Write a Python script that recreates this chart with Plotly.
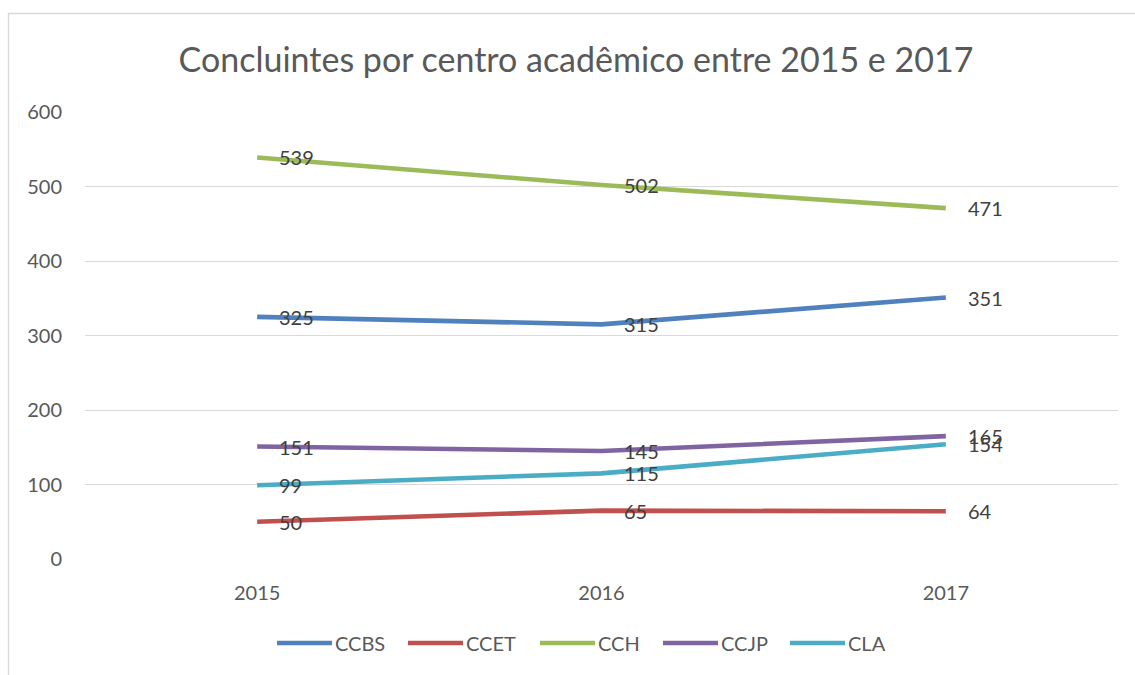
import plotly.graph_objects as go

years = ["2015", "2016", "2017"]
series_names = ["CCBS", "CCET", "CCH", "CCJP", "CLA"]
ccbs = [325, 315, 351]
ccet = [50, 65, 64]
cch = [539, 502, 471]
ccjp = [151, 145, 165]
cla = [99, 115, 154]
y_ticks = [0, 100, 200, 300, 400, 500, 600]

series_values = [ccbs, ccet, cch, ccjp, cla]
colors = ["#4F81BD", "#C0504D", "#9BBB59", "#8064A2", "#4BACC6"]

W, H = 1135, 675
L, R, T, B = 85, 1118, 112, 559  # plot area in pixels
FONT = "Lato"


def px_x(p):
    return (p - L) / (R - L)


def px_y(p):
    return (B - p) / (B - T)


fig = go.Figure()
annotations = []
for name, vals, col in zip(series_names, series_values, colors):
    fig.add_trace(go.Scatter(
        x=years, y=vals, mode="lines", name=name,
        line=dict(color=col, width=4.6), showlegend=False,
    ))
    for i, yv in enumerate(vals):
        annotations.append(dict(
            x=i, y=yv, xref="x", yref="y", text=str(yv), showarrow=False,
            xanchor="left", yanchor="middle", xshift=20,
            font=dict(family=FONT, size=20, color="#404040"),
        ))

# custom legend
legend_starts = [277, 408, 540, 663, 790]
legend_y = 643
shapes = []
for name, col, xs in zip(series_names, colors, legend_starts):
    shapes.append(dict(
        type="line", xref="paper", yref="paper",
        x0=px_x(xs), x1=px_x(xs + 55), y0=px_y(legend_y), y1=px_y(legend_y),
        line=dict(color=col, width=4.6),
    ))
    annotations.append(dict(
        x=px_x(xs + 56), y=px_y(legend_y), xref="paper", yref="paper",
        text=name, showarrow=False, xanchor="left", yanchor="middle",
        font=dict(family=FONT, size=20, color="#595959"),
    ))

# chart frame
shapes.append(dict(
    type="rect", xref="paper", yref="paper", layer="below",
    x0=px_x(8.5), x1=px_x(1145), y0=px_y(13.5), y1=px_y(690),
    line=dict(color="#D9D9D9", width=1.3),
))

fig.update_layout(
    width=W, height=H,
    margin=dict(l=L, r=W - R, t=T, b=H - B, autoexpand=False),
    paper_bgcolor="white", plot_bgcolor="white",
    title=dict(
        text="Concluintes por centro acadêmico entre 2015 e 2017",
        x=576 / W, xref="container", xanchor="center",
        y=1 - 60 / H, yref="container", yanchor="middle",
        font=dict(family=FONT, size=34, color="#595959"),
    ),
    xaxis=dict(
        type="category", range=[-0.5, 2.5], showgrid=False, zeroline=False,
        showline=False, ticks="", ticklabelstandoff=20,
        tickfont=dict(family=FONT, size=20, color="#595959"),
    ),
    yaxis=dict(
        range=[0, 600], tickvals=y_ticks, showgrid=True, gridcolor="#D9D9D9",
        gridwidth=1.3, zeroline=False, showline=False, ticks="",
        ticklabelstandoff=22,
        tickfont=dict(family=FONT, size=20, color="#595959"),
    ),
    shapes=shapes, annotations=annotations, showlegend=False,
)

fig.write_html(
    "out.html",
    config={"displayModeBar": False},
    post_script="document.body.style.margin='0';document.body.style.overflow='hidden';",
)
